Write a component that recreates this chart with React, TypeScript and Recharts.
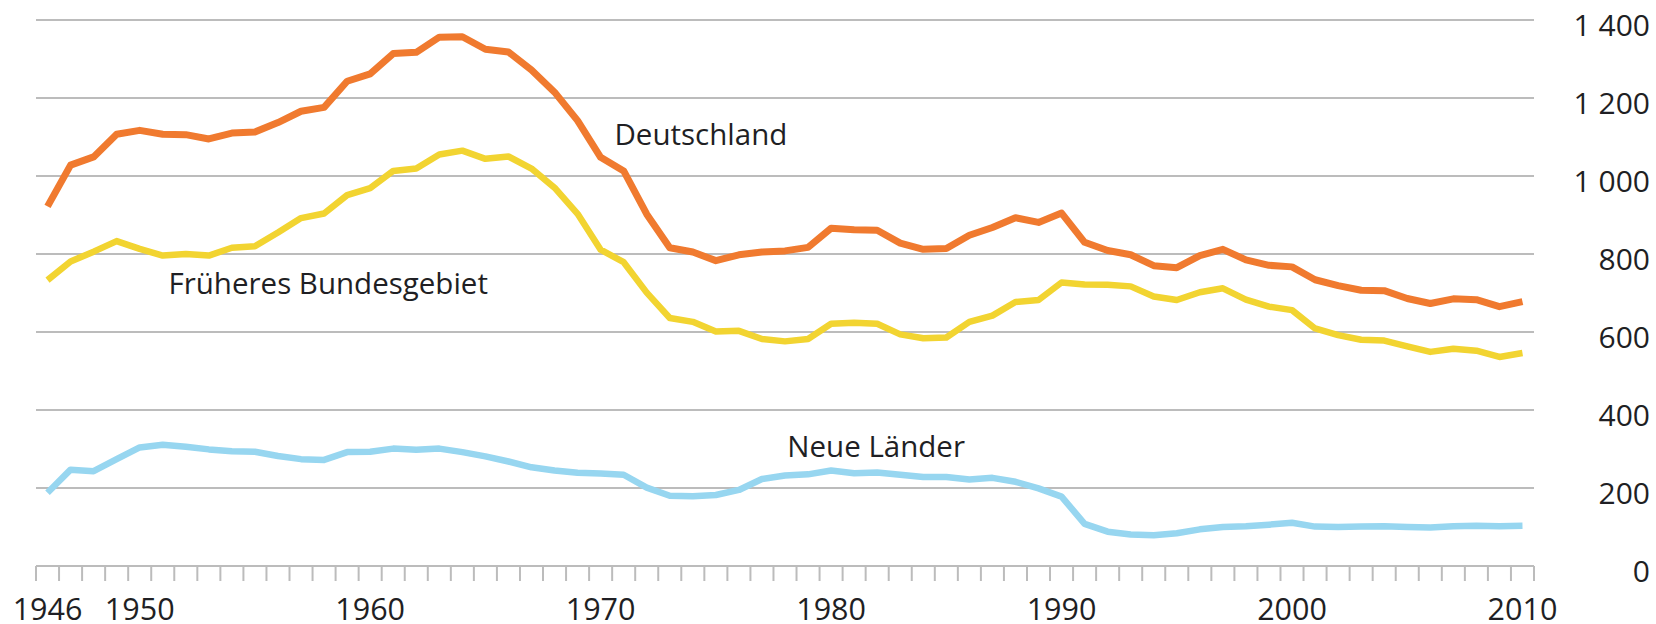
import React from 'react';
import { LineChart, Line, XAxis, YAxis, CartesianGrid, ReferenceDot } from 'recharts';

// Lebendgeborene in 1 000, 1946 bis 2010
const years = Array.from({ length: 65 }, (_, i) => 1946 + i);

const deutschland = [
  922, 1028, 1049, 1107, 1117, 1107, 1106, 1095, 1110, 1113,
  1137, 1166, 1176, 1243, 1262, 1314, 1317, 1356, 1357, 1325,
  1318, 1272, 1215, 1142, 1048, 1013, 902, 816, 805, 783,
  798, 805, 808, 817, 866, 862, 861, 828, 812, 814,
  848, 868, 893, 881, 905, 830, 809, 798, 770, 765,
  796, 812, 785, 771, 767, 734, 719, 707, 706, 686,
  673, 685, 683, 665, 678,
];

const frueheresBundesgebiet = [
  733, 781, 806, 833, 813, 796, 800, 796, 816, 820,
  855, 892, 904, 951, 969, 1013, 1019, 1055, 1065, 1044,
  1050, 1019, 970, 903, 811, 779, 701, 636, 626, 601,
  603, 582, 576, 582, 621, 624, 621, 594, 584, 586,
  626, 642, 677, 682, 727, 722, 721, 717, 691, 682,
  702, 712, 683, 665, 656, 609, 592, 580, 578, 563,
  549, 557, 552, 536, 546,
];

const neueLaender = [
  188, 247, 243, 274, 304, 311, 306, 299, 294, 293,
  282, 274, 272, 292, 293, 301, 298, 301, 292, 281,
  268, 253, 245, 239, 237, 234, 201, 180, 179, 182,
  195, 223, 232, 235, 245, 238, 240, 234, 228, 228,
  222, 226, 216, 199, 178, 108, 88, 81, 79, 84,
  94, 100, 102, 106, 111, 101, 100, 101, 102, 100,
  99, 102, 103, 102, 103,
];

const yearLabels = [1946, 1950, 1960, 1970, 1980, 1990, 2000, 2010];
const yTicks = [0, 200, 400, 600, 800, 1000, 1200, 1400];

const annotations = [
  { text: 'Deutschland', year: 1970.6, value: 1080 },
  { text: 'Früheres Bundesgebiet', year: 1951.25, value: 697 },
  { text: 'Neue Länder', year: 1978.1, value: 280 },
];

const data = years.map((year, i) => ({
  year,
  deutschland: deutschland[i],
  frueher: frueheresBundesgebiet[i],
  neu: neueLaender[i],
}));

// tick marks sit between the years
const boundaries = [...years.map((y) => y - 0.5), years[years.length - 1] + 0.5];
const domain = [years[0] - 0.5, years[years.length - 1] + 0.5];

const FONT = '"Open Sans", sans-serif';
const TEXT = '#1f1f24';
const GRID = '#bcbcbc';

const fmt = (v: number) =>
  v >= 1000 ? `${Math.floor(v / 1000)} ${String(v % 1000).padStart(3, '0')}` : String(v);

const YTick = (props: any) => {
  const { x, y, payload } = props;
  return (
    <text x={x} y={y} dy={16} textAnchor="end" fill={TEXT} fontSize={30} fontFamily={FONT}>
      {fmt(payload.value)}
    </text>
  );
};

const AnnotationLabel = (text: string) => (props: any) => {
  const { viewBox } = props;
  return (
    <text x={viewBox.x} y={viewBox.y} fill={TEXT} fontSize={29.5} fontFamily={FONT}>
      {text}
    </text>
  );
};

export default function App() {
  return (
    <div style={{ position: 'absolute', left: 0, top: 0, width: 1656, height: 624, background: '#fff' }}>
      <LineChart width={1656} height={624} data={data} margin={{ top: 20, right: 0, left: 36, bottom: 0 }}>
        <CartesianGrid xAxisId="a" vertical={false} stroke={GRID} strokeWidth={2} />
        <XAxis
          xAxisId="b"
          dataKey="year"
          type="number"
          domain={domain}
          allowDataOverflow
          ticks={yearLabels}
          interval={0}
          axisLine={false}
          tickLine={false}
          tickSize={0}
          tickMargin={17}
          height={43}
          tick={{ fill: TEXT, fontSize: 30.5, fontFamily: FONT }}
        />
        <XAxis
          xAxisId="a"
          dataKey="year"
          type="number"
          domain={domain}
          allowDataOverflow
          ticks={boundaries}
          interval={0}
          tickFormatter={() => ''}
          tickSize={15}
          height={15}
          axisLine={{ stroke: GRID, strokeWidth: 2 }}
          tickLine={{ stroke: GRID, strokeWidth: 2 }}
        />
        <YAxis
          orientation="right"
          domain={[0, 1400]}
          ticks={yTicks}
          interval={0}
          width={122}
          axisLine={false}
          tickLine={false}
          tickSize={0}
          tickMargin={116}
          tick={<YTick />}
        />
        <Line
          xAxisId="a"
          dataKey="neu"
          stroke="#97d6f0"
          strokeWidth={6.5}
          dot={false}
          strokeLinejoin="round"
          isAnimationActive={false}
        />
        <Line
          xAxisId="a"
          dataKey="frueher"
          stroke="#f2d431"
          strokeWidth={6.5}
          dot={false}
          strokeLinejoin="round"
          isAnimationActive={false}
        />
        <Line
          xAxisId="a"
          dataKey="deutschland"
          stroke="#f07a2f"
          strokeWidth={7}
          dot={false}
          strokeLinejoin="round"
          isAnimationActive={false}
        />
        {annotations.map((a) => (
          <ReferenceDot
            key={a.text}
            xAxisId="a"
            x={a.year}
            y={a.value}
            r={0}
            fill="none"
            stroke="none"
            label={AnnotationLabel(a.text)}
          />
        ))}
      </LineChart>
    </div>
  );
}
